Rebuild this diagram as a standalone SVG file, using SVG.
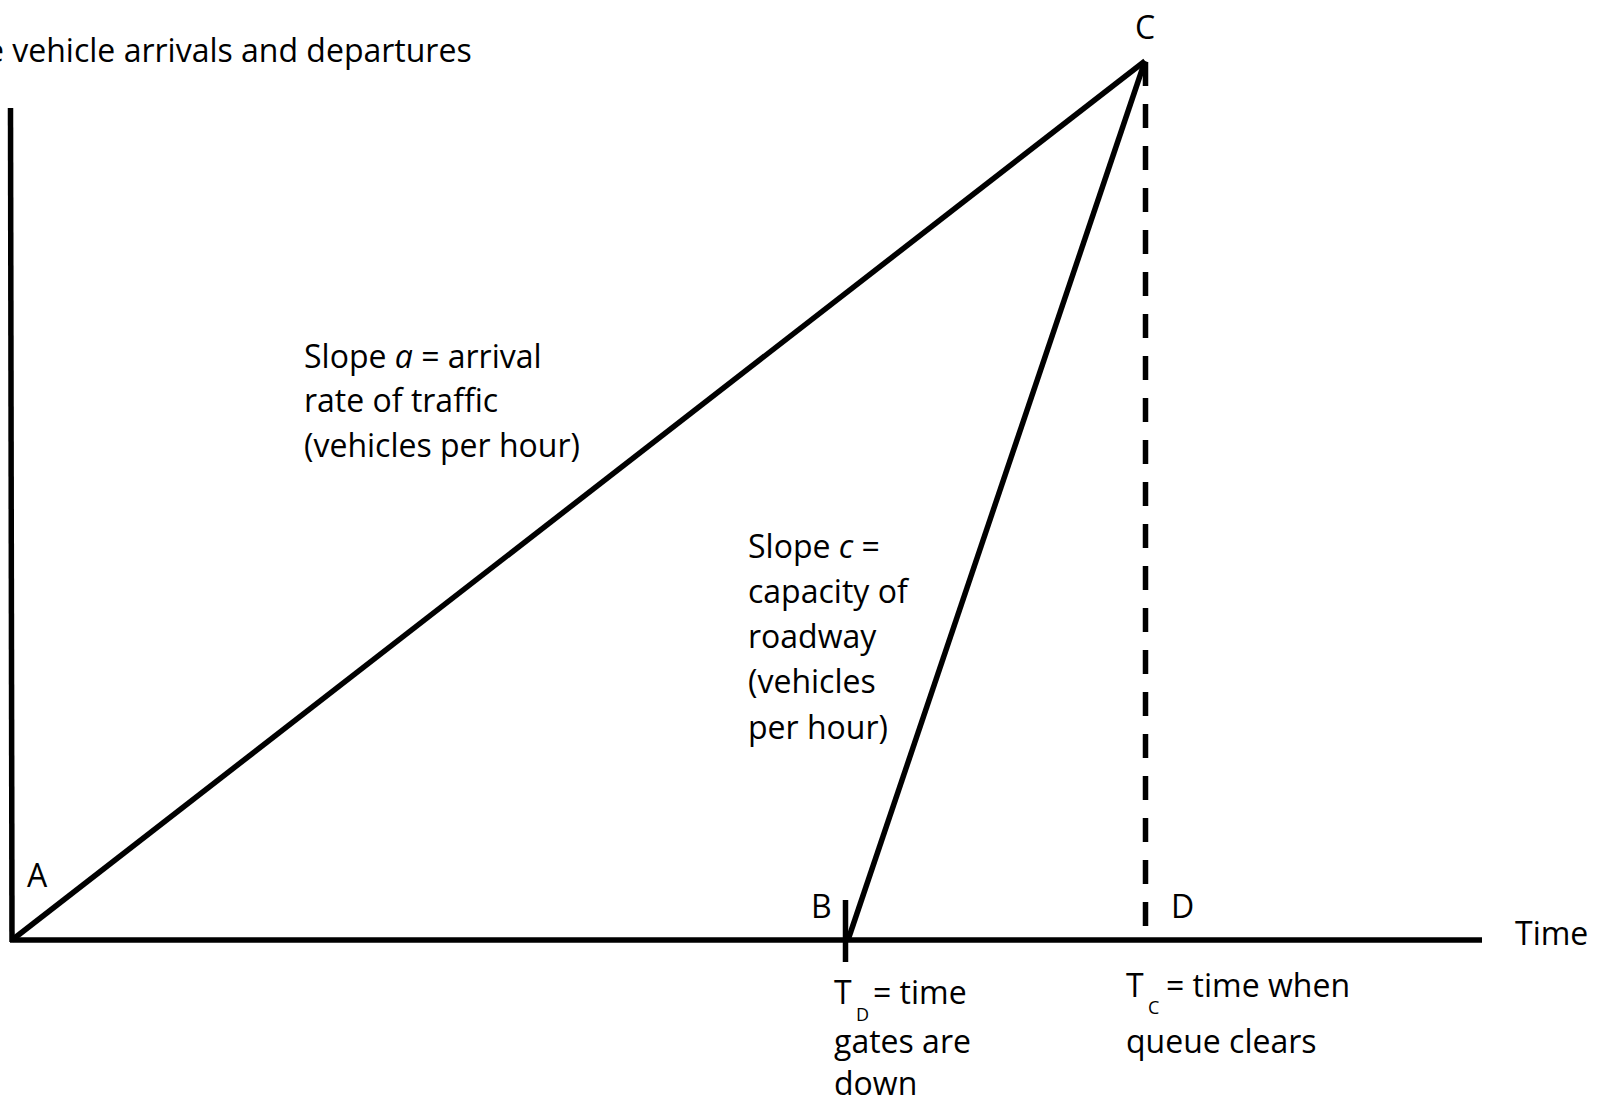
<svg xmlns="http://www.w3.org/2000/svg" width="1607" height="1103" viewBox="0 0 1607 1103">
<style>
.ln{stroke:#000;stroke-width:5.5;fill:none;stroke-linecap:butt}
.dash{stroke:#000;stroke-width:5.5;fill:none;stroke-dasharray:24 18}
text{font-family:"Open Sans","Noto Sans",sans-serif;font-size:32px;fill:#000}
.sub{font-size:18px}
</style>
<rect width="1607" height="1103" fill="#fff"/>
<g id="axes">
<line class="ln" x1="10.5" y1="108" x2="12" y2="942"/>
<line class="ln" x1="10" y1="940" x2="1482" y2="940"/>
<line class="ln" x1="845.5" y1="900" x2="845.5" y2="962"/>
</g>
<g id="connectors">
<line class="ln" x1="12" y1="940" x2="1145" y2="61"/>
<line class="ln" x1="1145" y1="61" x2="848" y2="940"/>
<line class="dash" x1="1145.5" y1="62" x2="1145.5" y2="927"/>
</g>
<g id="title"><text x="-14" y="62">e vehicle arrivals and departures</text></g>
<g id="point-A"><text x="27" y="887">A</text></g>
<g id="point-B"><text x="811" y="918">B</text></g>
<g id="point-C"><text x="1145" y="39" text-anchor="middle">C</text></g>
<g id="point-D"><text x="1171" y="918">D</text></g>
<g id="time-label"><text x="1515" y="945">Time</text></g>
<g id="slope-a">
<text x="304" y="368">Slope <tspan font-style="italic">a</tspan> = arrival</text>
<text x="304" y="412">rate of traffic</text>
<text x="304" y="457">(vehicles per hour)</text>
</g>
<g id="slope-c">
<text x="748" y="558">Slope <tspan font-style="italic">c</tspan> =</text>
<text x="748" y="603">capacity of</text>
<text x="748" y="648">roadway</text>
<text x="748" y="693">(vehicles</text>
<text x="748" y="739">per hour)</text>
</g>
<g id="td-label">
<text x="834" y="1004">T<tspan class="sub" x="856" dy="17">D</tspan><tspan x="873" dy="-17">= time</tspan></text>
<text x="834" y="1053">gates are</text>
<text x="834" y="1095">down</text>
</g>
<g id="tc-label">
<text x="1126" y="997">T<tspan class="sub" x="1148" dy="17">C</tspan><tspan x="1166" dy="-17">= time when</tspan></text>
<text x="1126" y="1053">queue clears</text>
</g>
</svg>
